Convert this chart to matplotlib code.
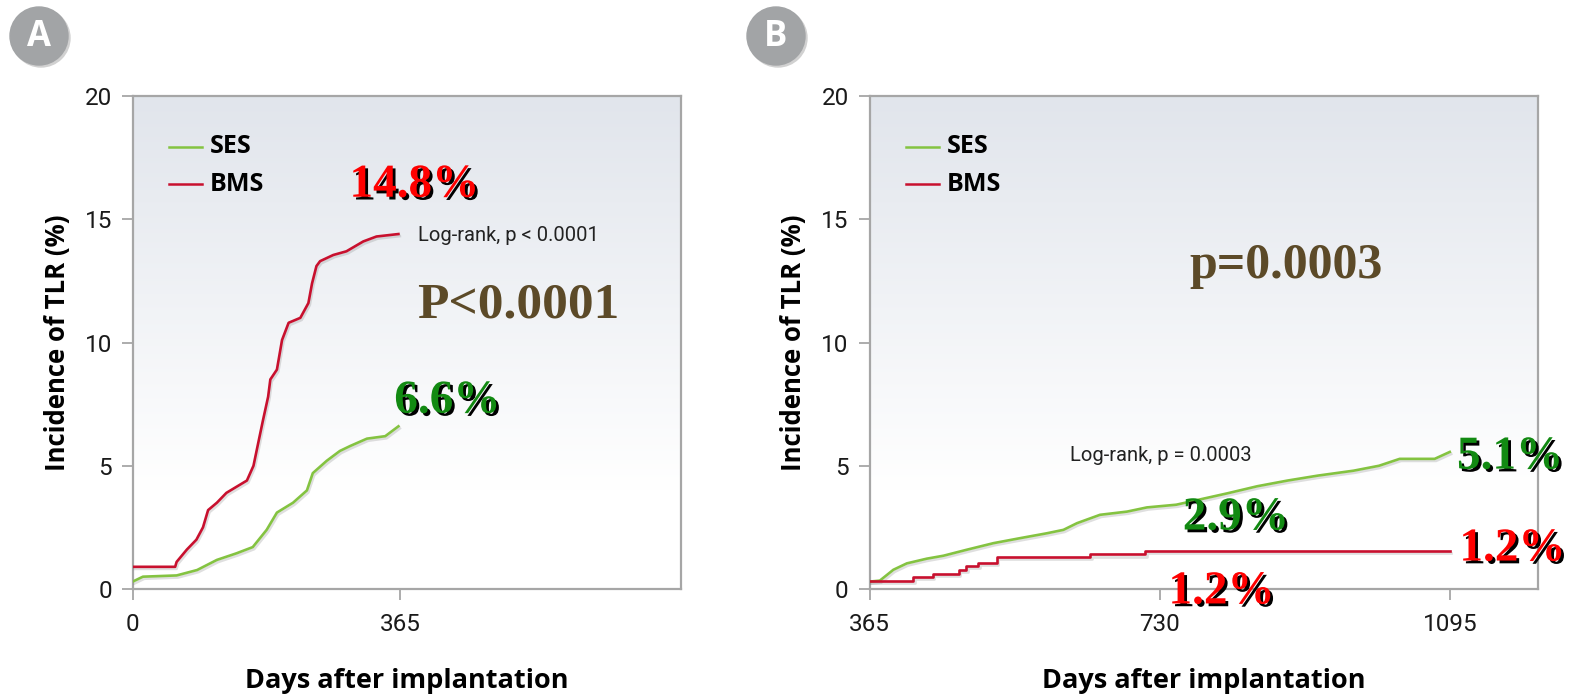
import numpy as np
import matplotlib
matplotlib.use("Agg")
import matplotlib.pyplot as plt
import matplotlib.patheffects as pe
from matplotlib.patches import Ellipse

# Kaplan-Meier curves (days after implantation, % TLR)
ses_a_days = [0, 14, 60, 88, 115, 142, 164, 183, 197, 219, 238, 246, 265, 283, 297, 320, 345, 363]
ses_a_pct = [0.3, 0.5, 0.55, 0.77, 1.18, 1.45, 1.7, 2.4, 3.1, 3.5, 4.0, 4.7, 5.2, 5.6, 5.8, 6.1, 6.2, 6.6]

bms_a_days = [0, 58, 60, 74, 87, 96, 103, 115, 128, 142, 156, 165, 172, 178, 185, 188, 197,
              204, 213, 229, 240, 245, 251, 256, 274, 292, 315, 333, 363]
bms_a_pct = [0.9, 0.9, 1.1, 1.6, 2.0, 2.5, 3.2, 3.5, 3.9, 4.15, 4.4, 5.0, 6.0, 6.85, 7.8, 8.5, 8.9,
             10.1, 10.8, 11.0, 11.6, 12.4, 13.1, 13.3, 13.55, 13.7, 14.1, 14.3, 14.4]

ses_b_days = [365, 378, 395, 412, 437, 458, 487, 521, 554, 588, 609, 626, 655, 689, 714,
              751, 783, 815, 853, 891, 929, 974, 1006, 1032, 1076, 1095]
ses_b_pct = [0.3, 0.34, 0.78, 1.04, 1.23, 1.35, 1.59, 1.86, 2.06, 2.26, 2.4, 2.67, 3.01, 3.14, 3.31,
             3.42, 3.65, 3.88, 4.17, 4.4, 4.6, 4.8, 5.0, 5.28, 5.28, 5.56]

bms_b_days = [365, 420, 445, 477, 487, 502, 525, 643, 712, 1095]
bms_b_pct = [0.34, 0.47, 0.61, 0.79, 0.92, 1.06, 1.29, 1.4, 1.56, 1.56]

y_ticks = [0, 5, 10, 15, 20]
x_ticks_a = [0, 365]
x_ticks_b = [365, 730, 1095]

GREEN = "#84c341"
RED = "#c8102e"
TXT_RED = "#ff0000"
TXT_GREEN = "#128a12"
BROWN = "#5c4a28"
FRAME = "#a6a6a6"

plt.rcParams["font.family"] = ["Roboto", "DejaVu Sans"]
BOLD = ["Open Sans", "DejaVu Sans"]

W, H = 1571, 699
fig = plt.figure(figsize=(W / 100, H / 100), dpi=100)
axA = fig.add_axes([132.7 / W, 110 / H, 548.3 / W, 493 / H])
axB = fig.add_axes([869.5 / W, 110 / H, 668.5 / W, 493 / H])

# soft grey-blue to white background
grad = np.linspace(0, 1, 256).reshape(-1, 1)
top = np.array([0.882, 0.898, 0.925])
frac = np.clip(grad / 0.8, 0, 1)
bg = top + (1 - top) * frac
bg = bg.reshape(256, 1, 3)

shadow = [pe.SimpleLineShadow(offset=(1, -1.5), shadow_color="0.5", alpha=0.25), pe.Normal()]
txt_shadow = [pe.withSimplePatchShadow(offset=(2, -2), shadow_rgbFace="black", alpha=1.0)]


def style_axes(ax, xlim, xticks):
    ax.imshow(bg, extent=[0, 1, 0, 1], transform=ax.transAxes, aspect="auto", zorder=0)
    ax.set_xlim(*xlim)
    ax.set_ylim(0, 20)
    ax.set_xticks(xticks)
    ax.set_yticks(y_ticks)
    for s in ax.spines.values():
        s.set_color(FRAME)
        s.set_linewidth(1.6)
    ax.tick_params(length=8, width=1.3, color=FRAME, labelsize=17.5, labelcolor="#1a1a1a")
    ax.tick_params(axis="x", pad=9)
    ax.tick_params(axis="y", pad=7)
    ax.set_ylabel("Incidence of TLR (%)", family=BOLD, fontsize=18.5, fontweight="bold", labelpad=10)
    ax.set_xlabel("Days after implantation", family=BOLD, fontsize=19.5, fontweight="bold", labelpad=23)

    # legend drawn by hand at the upper left
    w = ax.get_position().width * W
    for i, (name, c) in enumerate([("SES", GREEN), ("BMS", RED)]):
        y = 0.897 - i * 0.076
        ax.plot([36 / w, 69 / w], [y, y], transform=ax.transAxes, color=c, lw=1.8)
        ax.text(77 / w, y, name, transform=ax.transAxes, family=BOLD, fontsize=18,
                fontweight="bold", va="center", ha="left", color="black")


style_axes(axA, (0, 749), x_ticks_a)
style_axes(axB, (365, 1206), x_ticks_b)

axA.plot(ses_a_days, ses_a_pct, color=GREEN, lw=1.9, path_effects=shadow, zorder=3)
axA.plot(bms_a_days, bms_a_pct, color=RED, lw=1.9, path_effects=shadow, zorder=3)
axB.plot(ses_b_days, ses_b_pct, color=GREEN, lw=1.9, path_effects=shadow, zorder=3)
axB.plot(bms_b_days, bms_b_pct, color=RED, lw=1.9, drawstyle="steps-post", path_effects=shadow, zorder=3)

serif = dict(family="Liberation Serif", fontweight="bold", ha="center", va="center", clip_on=False)

# panel A annotations
axA.text(385, 16.36, "14.8%", color=TXT_RED, fontsize=34, path_effects=txt_shadow, **serif)
axA.text(390, 14.33, "Log-rank, p < 0.0001", fontsize=14.5, ha="left", va="center", color="#222222")
axA.text(527, 11.5, "P<0.0001", color=BROWN, fontsize=37, **serif)
axA.text(430, 7.6, "6.6%", color=TXT_GREEN, fontsize=34, path_effects=txt_shadow, **serif)

# panel B annotations
axB.text(889, 13.1, "p=0.0003", color=BROWN, fontsize=36, **serif)
axB.text(732, 5.4, "Log-rank, p = 0.0003", fontsize=14.5, ha="center", va="center", color="#222222")
axB.text(1171, 5.33, "5.1%", color=TXT_GREEN, fontsize=34, path_effects=txt_shadow, **serif)
axB.text(826, 2.86, "2.9%", color=TXT_GREEN, fontsize=34, path_effects=txt_shadow, **serif)
axB.text(1174, 1.6, "1.2%", color=TXT_RED, fontsize=34, path_effects=txt_shadow, **serif)
axB.text(808, -0.14, "1.2%", color=TXT_RED, fontsize=34, path_effects=txt_shadow, **serif)

# panel badges
for cx, letter in [(39, "A"), (776, "B")]:
    sh = Ellipse((cx / W + 2 / W, 1 - 38 / H), 58 / W, 58 / H, transform=fig.transFigure,
                 color="0.82", zorder=1)
    fig.add_artist(sh)
    circ = Ellipse((cx / W, 1 - 36 / H), 58 / W, 58 / H, transform=fig.transFigure,
                   color="#a2a4a6", zorder=2)
    fig.add_artist(circ)
    fig.text(cx / W, 1 - 37 / H, letter, color="white", family=BOLD, fontsize=25,
             fontweight="bold", ha="center", va="center", zorder=3)

fig.savefig("out.png", dpi=100)
